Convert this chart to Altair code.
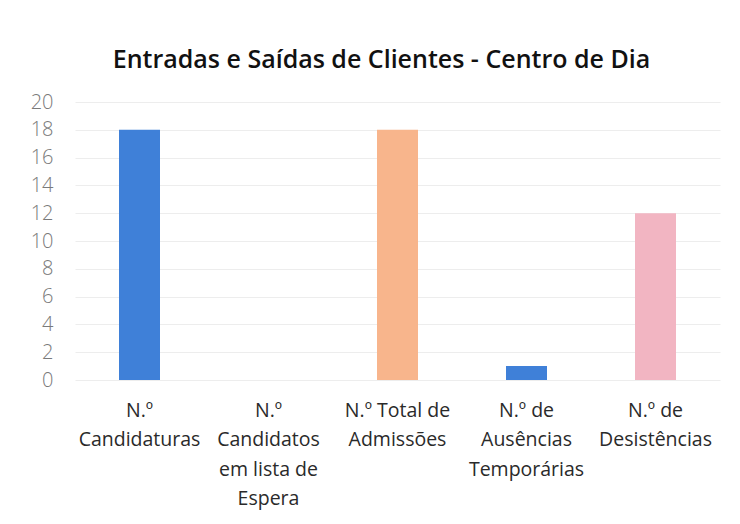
import altair as alt
import pandas as pd

categories = [
    "N.º|Candidaturas",
    "N.º|Candidatos|em lista de|Espera",
    "N.º Total de|Admissões",
    "N.º de|Ausências|Temporárias",
    "N.º de|Desistências",
]
values = [18, 0, 18, 1, 12]
colors = ["#3f80d8", "#3f80d8", "#f8b58c", "#3f80d8", "#f2b5c2"]

df = pd.DataFrame({"cat": categories, "value": values, "color": colors})

font = "Open Sans"

chart = alt.Chart(df).mark_bar(size=41).encode(
    x=alt.X("cat:N", sort=categories, title=None,
            scale=alt.Scale(paddingInner=0, paddingOuter=0),
            axis=alt.Axis(labelAngle=0, labelExpr="split(datum.label, '|')",
                          labelFont=font, labelFontSize=19.5, labelColor="#2a2a2a",
                          labelLineHeight=29.5, labelPadding=21, ticks=False,
                          domain=False, grid=False, labelBaseline="top")),
    y=alt.Y("value:Q", title=None,
            scale=alt.Scale(domain=[0, 20]),
            axis=alt.Axis(values=list(range(0, 21, 2)), labelFont=font,
                          labelFontSize=20, labelColor="#7a7a7a", labelFontWeight=300,
                          ticks=False, domain=False, labelPadding=22,
                          gridColor="#ededed", gridWidth=1)),
    color=alt.Color("color:N", scale=None, legend=None),
).properties(
    width=645,
    height=278,
    title=alt.TitleParams("Entradas e Saídas de Clientes - Centro de Dia",
                          font=font, fontSize=25, fontWeight=600,
                          color="#111111", anchor="middle", dx=-16, offset=19),
    autosize=alt.AutoSizeParams(type="none"),
    padding={"left": 67, "top": 94, "right": 10, "bottom": 130},
).configure(background="white").configure_view(stroke=None)

chart.save("out.html", embed_options={"renderer": "svg", "actions": False})
